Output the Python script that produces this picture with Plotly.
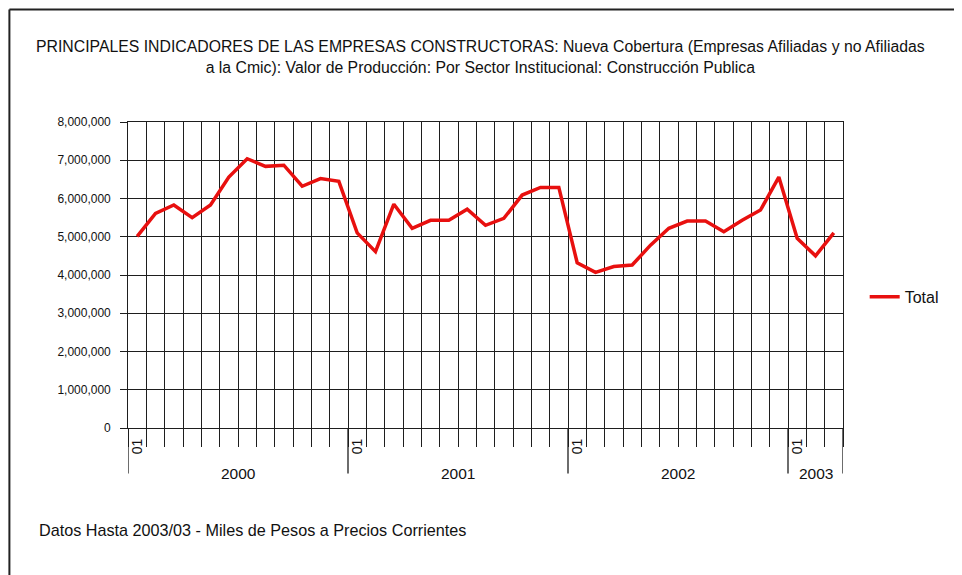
import numpy as np
import plotly.graph_objects as go

years = ["2000", "2001", "2002", "2003"]
months_per_year = [12, 12, 12, 3]
month_labels = ["01", "", "", "", "", "", "", "", "", "", "", ""]
values = [5010000, 5610000, 5830000, 5500000, 5830000, 6560000, 7040000, 6840000, 6870000, 6320000, 6520000, 6450000,
          5100000, 4610000, 5850000, 5220000, 5430000, 5430000, 5720000, 5300000, 5480000, 6090000, 6290000, 6290000,
          4320000, 4070000, 4220000, 4260000, 4780000, 5220000, 5410000, 5410000, 5130000, 5430000, 5700000, 6560000,
          4960000, 4500000, 5100000]
title_text = ("PRINCIPALES INDICADORES DE LAS EMPRESAS CONSTRUCTORAS: Nueva Cobertura (Empresas Afiliadas y no Afiliadas"
              "<br>a la Cmic): Valor de Producción: Por Sector Institucional: Construcción Publica")
footer_text = "Datos Hasta 2003/03 - Miles de Pesos a Precios Corrientes"

n = len(values)
x = np.arange(n) + 0.5

OFF = 8  # page body margin
W, H = 962 - OFF, 575 - OFF
L, R, T, B = 127.7 - OFF, 843.3 - OFF, 121.7 - OFF, 428.3 - OFF
pw, ph = R - L, B - T

def px(xp):  # page x -> paper
    return (xp - OFF - L) / pw

def py(yp):  # page y -> paper
    return (B - (yp - OFF)) / ph

FONT = "Liberation Sans, Arial, sans-serif"
GRID = "#1e1e1e"
GW = 1.3

fig = go.Figure()
fig.add_trace(go.Scatter(x=x, y=values, mode="lines", name="Total",
                         line=dict(color="#e8100f", width=3.5)))

annotations = []
shapes = []
start = 0
for yr, cnt in zip(years, months_per_year):
    annotations.append(dict(x=start + cnt / 2, y=py(474), xref="x", yref="paper",
                            xanchor="center", yanchor="middle",
                            text=yr, showarrow=False, font=dict(size=15.5, color="#111", family=FONT)))
    for k in range(cnt):
        if month_labels[k]:
            annotations.append(dict(x=start + k + 0.5, y=py(446.5), xref="x", yref="paper",
                                    xanchor="center", yanchor="middle",
                                    text=month_labels[k], textangle=-90, showarrow=False,
                                    font=dict(size=14, color="#111", family=FONT)))
    shapes.append(dict(type="line", xref="x", yref="paper", x0=start, x1=start,
                       y0=0, y1=py(474), line=dict(color=GRID, width=GW)))
    start += cnt
shapes.append(dict(type="line", xref="x", yref="paper", x0=start, x1=start,
                   y0=0, y1=py(474), line=dict(color=GRID, width=GW)))

annotations.append(dict(x=px(480.5), y=py(56.5), xref="paper", yref="paper", text=title_text,
                        xanchor="center", yanchor="middle",
                        showarrow=False, align="center", font=dict(size=15.8, color="#111", family=FONT)))
annotations.append(dict(x=px(37), y=py(531), xref="paper", yref="paper", text=footer_text,
                        xanchor="left", yanchor="middle",
                        showarrow=False, font=dict(size=16.2, color="#111", family=FONT)))

# outer frame (left and top)
shapes.append(dict(type="line", xref="paper", yref="paper", x0=px(9), x1=px(9), y0=py(590), y1=py(9),
                   line=dict(color="#222", width=2)))
shapes.append(dict(type="line", xref="paper", yref="paper", x0=px(9), x1=px(975), y0=py(9), y1=py(9),
                   line=dict(color="#222", width=2)))

fig.update_layout(
    width=W, height=H,
    margin=dict(l=L, r=W - R, t=T, b=H - B, pad=0),
    paper_bgcolor="white", plot_bgcolor="white",
    font=dict(family=FONT, size=12, color="#111"),
    showlegend=True,
    legend=dict(x=px(865), y=py(297), xanchor="left", yanchor="middle",
                font=dict(size=16, color="#111", family=FONT), bgcolor="rgba(0,0,0,0)"),
    annotations=annotations, shapes=shapes,
    xaxis=dict(range=[0, n], tick0=0, dtick=1, showgrid=True, gridcolor=GRID, gridwidth=GW,
               ticks="outside", ticklen=18, tickcolor=GRID, tickwidth=GW, showticklabels=False,
               showline=True, linecolor=GRID, linewidth=GW, mirror=True, zeroline=False),
    yaxis=dict(range=[0, 8000000], dtick=1000000, tickformat=",", ticksuffix="\u00a0\u00a0",
               showgrid=True, gridcolor=GRID,
               gridwidth=GW, ticks="outside", ticklen=7, tickcolor=GRID, tickwidth=GW,
               showline=True, linecolor=GRID, linewidth=GW, mirror=True, zeroline=False,
               tickfont=dict(size=12, color="#111", family=FONT)),
)

fig.write_html("out.html")
